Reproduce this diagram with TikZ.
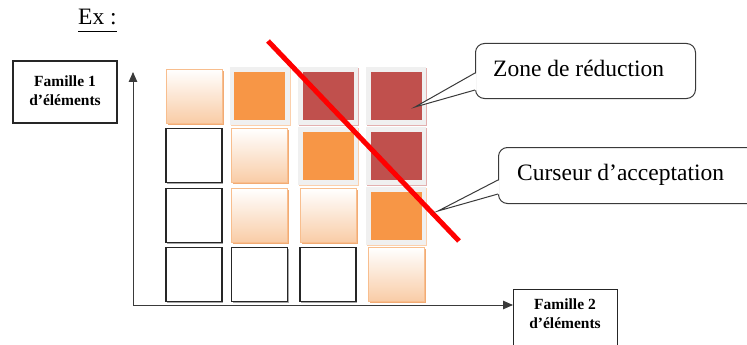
\documentclass[tikz,border=0pt]{standalone}
\usepackage{fontspec}
\setmainfont{Liberation Serif}
\usetikzlibrary{arrows.meta,shadows}
\definecolor{orF}{HTML}{F79646}
\definecolor{redF}{HTML}{C0504D}
\definecolor{frameG}{HTML}{F0F0F0}
\definecolor{peach}{HTML}{F9CCA6}
\definecolor{peachB}{HTML}{F8BE8E}
\definecolor{peachS}{HTML}{F2AB74}
\definecolor{lineG}{HTML}{3A3A3A}
\newcommand{\wcell}[3]{\node[wcell] (#1) at (#2,#3) {};}
\newcommand{\gcell}[3]{\node[gcell] (#1) at (#2,#3) {};}
\newcommand{\fcell}[4]{\node[fcellout, drop shadow={shadow xshift=1.2pt,shadow yshift=-1pt,fill=#4!45,opacity=1}] (#1) at (#2,#3) {};
  \node[fcellin, fill=#4] (#1in) at (#2,#3) {};}
\begin{document}
\begin{tikzpicture}[x=1pt,y=-1pt,
  wcell/.style={rectangle, inner sep=0pt, minimum width=56pt, minimum height=54pt,
    draw=black!85, line width=1.3pt, fill=white,
    drop shadow={shadow xshift=1pt,shadow yshift=-1pt,fill=black!35,opacity=1}},
  gcell/.style={rectangle, inner sep=0pt, minimum width=56pt, minimum height=54pt,
    draw=peachB, line width=0.8pt, top color=white, bottom color=peach,
    drop shadow={shadow xshift=1.8pt,shadow yshift=-1.8pt,fill=peachS,opacity=1}},
  fcellout/.style={rectangle, inner sep=0pt, minimum width=60pt, minimum height=58pt,
    fill=frameG, draw=none},
  fcellin/.style={rectangle, inner sep=0pt, minimum width=51pt, minimum height=48pt, draw=none},
  famille/.style={font=\bfseries\fontsize{15.5}{19}\selectfont, align=center, inner sep=0pt},
  boxline/.style={draw=black!85, line width=1.2pt},
  axis/.style={draw=lineG, line width=1pt, -{Triangle[length=10pt,width=8.5pt]}},
  redline/.style={draw=red, line width=5pt},
  cbox/.style={rectangle, rounded corners=9pt, draw=lineG, line width=1pt, fill=white, inner sep=0pt, anchor=north west},
  cpoint/.style={draw=lineG, line width=1pt, line join=miter},
  ctext/.style={font=\fontsize{23.5}{28}\selectfont, inner sep=0pt, anchor=base west}
]
\useasboundingbox (0,0) rectangle (747,345);
% title
\node[font=\fontsize{23.5}{28}\selectfont, inner sep=0pt, anchor=base west] (ex) at (78,25) {Ex :};
\draw[line width=0.9pt] ([yshift=-6.5pt]ex.base west) -- ([yshift=-6.5pt]ex.base east);
% family boxes
\node[boxline, rectangle, minimum width=104pt, minimum height=62pt, inner sep=0pt] (f1) at (65,92) {};
\node[famille] (f1t) at (65,91) {Famille 1\\d’éléments};
\node[boxline, rectangle, minimum width=104pt, minimum height=64pt, inner sep=0pt, anchor=north west] (f2) at (513,289) {};
\node[famille] (f2t) at (565,314) {Famille 2\\d’éléments};
% cells: row 1
\gcell{c11}{194}{96}
\fcell{c12}{259.5}{96}{orF}
\fcell{c13}{328}{96}{redF}
\fcell{c14}{396}{96}{redF}
% row 2
\wcell{c21}{194}{155.5}
\gcell{c22}{259.5}{155.5}
\fcell{c23}{328}{155.5}{orF}
\fcell{c24}{396}{155.5}{redF}
% row 3
\wcell{c31}{194}{215.5}
\gcell{c32}{259.5}{215.5}
\gcell{c33}{328}{215.5}
\fcell{c34}{396}{215.5}{orF}
% row 4
\wcell{c41}{194}{274.5}
\wcell{c42}{259.5}{274.5}
\wcell{c43}{328}{274.5}
\gcell{c44}{396}{274.5}
% red cursor line
\coordinate (r1) at (268,41);
\coordinate (r2) at (459,241);
\draw[redline] (r1) -- (r2);
% callout 1
\node[cbox, minimum width=220pt, minimum height=55pt] (zbox) at (475,43) {};
\coordinate (t1) at (415,107);
\coordinate (z1) at (475,73);
\coordinate (z2) at (475,90);
\fill[white] ([xshift=1.5pt]z1) -- (t1) -- ([xshift=1.5pt]z2) -- cycle;
\draw[cpoint] (z1) -- (t1) -- (z2);
\node[ctext] (zone) at (493,77) {Zone de réduction};
% callout 2
\node[cbox, minimum width=270pt, minimum height=56pt] (cbx) at (498,147) {};
\coordinate (t2) at (438,211);
\coordinate (k1) at (498,180);
\coordinate (k2) at (498,194);
\fill[white] ([xshift=1.5pt]k1) -- (t2) -- ([xshift=1.5pt]k2) -- cycle;
\draw[cpoint] (k1) -- (t2) -- (k2);
\node[ctext] (curs) at (517,180) {Curseur d’acceptation};
% axes
\coordinate (o) at (133,305);
\coordinate (ytip) at (133,72);
\draw[axis] (o) -- (ytip);
\draw[axis] (o) -- (f2.west |- o);
\end{tikzpicture}
\end{document}
